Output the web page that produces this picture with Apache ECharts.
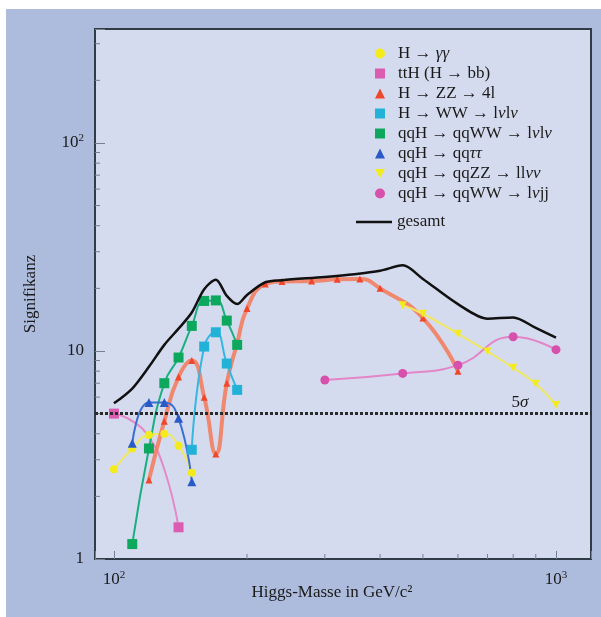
<!DOCTYPE html>
<html>
<head>
<meta charset="utf-8">
<script src="https://cdn.jsdelivr.net/npm/echarts@6/dist/echarts.min.js"></script>
<style>
  html, body { margin: 0; padding: 0; background: #fff; }
  #main { width: 601px; height: 617px; }
</style>
</head>
<body>
<div id="main"></div>
<script>
// Higgs-Masse (GeV/c^2) und Signifikanz je Kanal
var massGG = [100, 110, 120, 130, 140, 150];
var sigGG = [2.7, 3.4, 3.95, 4.0, 3.5, 2.6];

var massTTH = [100, 110, 120, 130, 140];
var sigTTH = [5.0, 4.6, 3.85, 2.7, 1.42];
var markTTH = [true, false, false, false, true];

var massZZ = [120, 130, 140, 150, 160, 170, 180, 190, 200, 220, 240, 280, 320, 360, 400, 500, 600];
var sigZZ = [2.4, 4.6, 7.5, 9.0, 6.0, 3.2, 7.0, 10.9, 16.0, 21.0, 21.6, 21.7, 22.1, 22.2, 20.0, 14.4, 8.0];

var massWW = [150, 160, 170, 180, 190];
var sigWW = [3.35, 10.5, 12.3, 8.7, 6.5];

var massQQWW = [110, 120, 130, 140, 150, 160, 170, 180, 190];
var sigQQWW = [1.18, 3.4, 7.0, 9.3, 13.2, 17.4, 17.5, 14.0, 10.7];

var massTT = [110, 120, 130, 140, 150];
var sigTT = [3.6, 5.65, 5.65, 4.75, 2.35];

var massLLNN = [450, 500, 600, 700, 800, 900, 1000];
var sigLLNN = [16.6, 15.1, 12.1, 9.95, 8.3, 6.95, 5.5];

var massLNJJ = [300, 450, 600, 800, 1000];
var sigLNJJ = [7.25, 7.8, 8.55, 11.7, 10.15];

var massSum = [100, 110, 120, 130, 140, 150, 160, 170, 180, 190, 200, 220, 240, 300, 350, 400, 450, 500, 600, 700, 800, 900, 1000];
var sigSum = [5.6, 6.6, 8.4, 10.7, 12.8, 15.3, 19.8, 22.0, 18.4, 16.8, 18.6, 21.4, 21.9, 22.7, 23.4, 24.3, 25.8, 22.2, 16.8, 14.3, 14.5, 12.9, 11.6];

var fiveSigma = 5;

var xMin = 90.6, xMax = 1200;
var yMin = 1, yMax = 353;
var xMinorTicks = [200, 300, 400, 500, 600, 700, 800, 900];
var yMinorTicks = [2, 3, 4, 5, 6, 7, 8, 9, 20, 30, 40, 50, 60, 70, 80, 90, 200, 300];

var names = [
  'H → γγ', 'ttH (H → bb)', 'H → ZZ → 4l', 'H → WW → lνlν',
  'qqH → qqWW → lνlν', 'qqH → qqττ', 'qqH → qqZZ → llνν', 'qqH → qqWW → lνjj'
];

var serif = 'Liberation Serif, Times New Roman, serif';
var downTri = 'path://M0,0L10,0L5,9Z';

function pairs(xs, ys) {
  return xs.map(function (x, i) { return [x, ys[i]]; });
}

function powLabel(v) {
  var l = Math.log10(v);
  if (Math.abs(l - Math.round(l)) > 1e-6) return '';
  var e = Math.round(l);
  if (e === 0) return '{b|1}';
  if (e === 1) return '{b|10}';
  return '{b|10}{s|' + e + '}';
}

var labelRich = {
  b: { fontFamily: serif, fontSize: 17, color: '#1a1a1a' },
  s: { fontFamily: serif, fontSize: 11, color: '#1a1a1a', padding: [0, 0, 9, 0] }
};

function chan(name, xs, ys, color, lineColor, symbol, size, width, extra) {
  var s = {
    name: name,
    type: 'line',
    smooth: true,
    data: pairs(xs, ys),
    symbol: symbol,
    symbolSize: size,
    itemStyle: { color: color },
    lineStyle: { color: lineColor, width: width },
    z: 3
  };
  if (extra) for (var k in extra) s[k] = extra[k];
  return s;
}

var myChart = echarts.init(document.getElementById('main'));

var ttHData = massTTH.map(function (x, i) {
  return markTTH[i] ? [x, sigTTH[i]] : { value: [x, sigTTH[i]], symbol: 'none' };
});

var option = {
  backgroundColor: '#adbbdd',
  animation: false,
  grid: {
    left: 95, top: 29, right: 10, bottom: 58,
    show: true, backgroundColor: '#d5dbee',
    borderColor: '#2f3b47', borderWidth: 2
  },
  graphic: [
    { type: 'rect', shape: { x: 0, y: 0, width: 601, height: 9 }, style: { fill: '#ffffff' } },
    { type: 'rect', shape: { x: 0, y: 0, width: 6, height: 617 }, style: { fill: '#ffffff' } },
    {
      type: 'text', x: 520, y: 403, z: 10,
      style: {
        text: '5{i|σ}', fontFamily: serif, fontSize: 17, fill: '#1a1a1a',
        align: 'center', verticalAlign: 'middle',
        rich: { i: { fontFamily: serif, fontSize: 17, fontStyle: 'italic' } }
      }
    }
  ],
  legend: [
    {
      orient: 'vertical', left: 375, top: 43.5, padding: 0, itemGap: 0,
      itemWidth: 10, itemHeight: 10,
      data: [
        { name: names[0], icon: 'circle' },
        { name: names[1], icon: 'rect' },
        { name: names[2], icon: 'triangle' },
        { name: names[3], icon: 'rect' },
        { name: names[4], icon: 'rect' },
        { name: names[5], icon: 'triangle' },
        { name: names[6], icon: downTri },
        { name: names[7], icon: 'circle' }
      ],
      formatter: function (n) {
        return n.replace(/([γντ]+)/g, '{i|$1}');
      },
      textStyle: {
        fontFamily: serif, fontSize: 17, color: '#1a1a1a', lineHeight: 20,
        padding: [0, 0, 0, 8],
        rich: { i: { fontFamily: serif, fontSize: 17, fontStyle: 'italic', color: '#1a1a1a', lineHeight: 20 } }
      }
    },
    {
      left: 356, top: 212, padding: 0, itemWidth: 36, itemHeight: 2.5,
      data: [{ name: 'gesamt', icon: 'rect' }],
      textStyle: { fontFamily: serif, fontSize: 17, color: '#1a1a1a', lineHeight: 20 }
    }
  ],
  xAxis: {
    type: 'log', logBase: 10, min: xMin, max: xMax,
    name: 'Higgs-Masse in GeV/c²', nameLocation: 'middle', nameGap: 25,
    nameMoveOverlap: false,
    nameTextStyle: { fontFamily: serif, fontSize: 17, color: '#1a1a1a', padding: [0, 22, 0, 0] },
    axisLine: { show: false },
    axisTick: { inside: true, length: 8, lineStyle: { color: '#75808f', width: 1 } },
    axisLabel: { margin: 11, formatter: powLabel, rich: labelRich },
    splitLine: { show: false }
  },
  yAxis: {
    type: 'log', logBase: 10, min: yMin, max: yMax,
    name: 'Signifikanz', nameLocation: 'middle', nameGap: 56, nameRotate: 90,
    nameMoveOverlap: false,
    nameTextStyle: { fontFamily: serif, fontSize: 17, color: '#1a1a1a' },
    axisLine: { show: false },
    axisTick: { inside: true, length: 10, lineStyle: { color: '#75808f', width: 1 } },
    axisLabel: { margin: 11, formatter: powLabel, rich: labelRich },
    splitLine: { show: false }
  },
  series: [
    {
      type: 'custom', silent: true, z: 2,
      data: xMinorTicks.map(function (v) { return [v, yMin]; }),
      renderItem: function (params, api) {
        var p = api.coord([api.value(0), api.value(1)]);
        return { type: 'line', shape: { x1: p[0], y1: p[1], x2: p[0], y2: p[1] - 5 },
          style: { stroke: '#75808f', lineWidth: 1 } };
      }
    },
    {
      type: 'custom', silent: true, z: 2,
      data: yMinorTicks.map(function (v) { return [xMin, v]; }),
      renderItem: function (params, api) {
        var p = api.coord([api.value(0), api.value(1)]);
        return { type: 'line', shape: { x1: p[0], y1: p[1], x2: p[0] + 5, y2: p[1] },
          style: { stroke: '#75808f', lineWidth: 1 } };
      }
    },
    {
      type: 'line', data: [], silent: true,
      markLine: {
        silent: true, symbol: 'none', label: { show: false },
        lineStyle: { color: '#2a2a2a', type: [3, 2], width: 3 },
        data: [{ yAxis: fiveSigma }]
      }
    },
    chan(names[0], massGG, sigGG, '#f3eb1c', '#f0e860', 'circle', 8, 2),
    chan(names[1], massTTH, sigTTH, '#dc5cb2', '#e38ac8', 'rect', 10, 2, { data: ttHData }),
    chan(names[2], massZZ, sigZZ, '#f0462c', 'rgba(243,126,98,0.9)', 'triangle', 7, 4),
    chan(names[3], massWW, sigWW, '#22b2d8', '#36b6e0', 'rect', 10, 2),
    chan(names[4], massQQWW, sigQQWW, '#0da85e', '#1aae82', 'rect', 10, 2),
    chan(names[5], massTT, sigTT, '#2a5ac8', '#3a6ed2', 'triangle', 9, 2),
    chan(names[6], massLLNN, sigLLNN, '#f3eb1c', '#f0e860', downTri, 8, 2),
    chan(names[7], massLNJJ, sigLNJJ, '#d650ac', '#e286c8', 'circle', 9, 2),
    {
      name: 'gesamt', type: 'line', smooth: 0.3, symbol: 'none',
      data: pairs(massSum, sigSum),
      itemStyle: { color: '#111' },
      lineStyle: { color: '#111', width: 2.5 },
      z: 4
    }
  ]
};

myChart.setOption(option);
</script>
</body>
</html>
